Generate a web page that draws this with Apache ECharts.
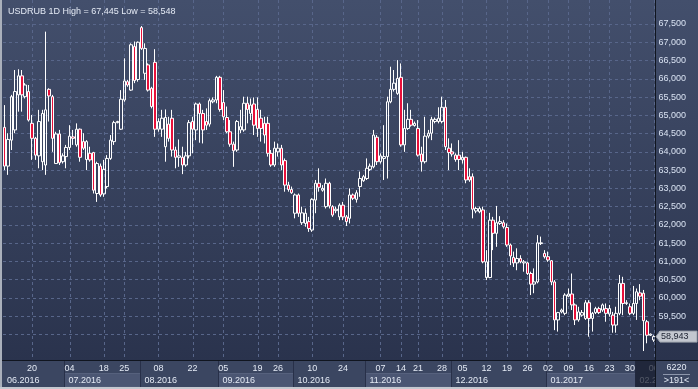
<!DOCTYPE html>
<html><head><meta charset="utf-8">
<script src="https://cdn.jsdelivr.net/npm/echarts@6/dist/echarts.min.js"></script>
<style>html,body{margin:0;padding:0;background:#2e3852;}#c{width:698px;height:389px;}</style>
</head><body><div id="c"></div>
<script>
// ---- data (USDRUB daily bars) ----
const openPrices = [64.67,63.61,64.32,64.60,65.56,66.08,65.51,65.65,64.78,64.37,63.89,63.73,63.64,65.71,65.51,63.68,64.49,63.73,63.87,64.12,
64.41,64.19,64.62,64.28,63.79,63.96,63.98,62.86,63.61,62.85,63.05,63.82,64.28,64.80,64.62,65.42,65.92,65.69,66.88,65.98,
67.40,66.15,66.38,65.74,66.45,64.62,64.62,64.14,64.76,64.92,64.05,63.85,63.85,63.64,63.89,64.83,64.60,65.31,65.05,64.83,
64.76,65.37,65.42,66.04,65.35,64.94,64.55,64.21,64.05,64.60,64.60,65.33,65.05,65.31,65.16,64.92,64.78,64.78,63.96,63.64,
64.00,64.10,63.76,63.09,62.97,62.32,62.82,62.06,62.04,62.09,61.86,62.68,63.14,62.95,62.50,63.14,62.50,62.39,62.22,62.54,
62.22,62.18,62.82,62.70,63.05,63.21,63.27,63.52,63.59,64.40,63.73,63.82,63.87,65.37,65.71,65.60,66.04,64.19,64.64,64.89,
64.72,64.64,63.94,63.73,64.43,64.51,64.83,64.83,64.83,65.22,64.10,64.00,63.91,63.91,63.78,63.85,63.32,63.32,62.38,62.36,
62.41,60.56,60.56,62.13,61.77,62.04,62.06,61.93,61.45,61.11,60.96,61.08,60.96,60.96,60.67,60.38,60.44,61.49,61.22,61.13,
61.02,60.44,59.40,59.62,59.58,60.05,60.11,59.81,59.40,59.53,59.44,59.87,59.44,59.60,59.71,59.67,59.71,59.56,59.53,59.26,
59.58,60.40,59.85,59.76,59.58,59.85,60.14,60.13,59.35,58.98,58.85];
const closePrices = [63.61,64.34,65.51,65.65,66.08,65.56,65.83,64.87,64.37,63.91,64.83,65.05,65.15,65.53,64.37,64.49,63.70,63.89,64.12,64.43,
64.37,64.62,63.85,64.10,64.28,63.78,62.95,63.68,62.82,63.52,63.82,64.32,64.80,64.83,65.44,65.94,65.83,66.93,65.95,67.00,
66.83,66.83,65.69,65.24,64.62,64.83,64.92,64.94,64.37,64.05,63.85,63.89,63.64,63.89,64.80,64.62,65.31,65.05,64.60,64.73,
65.40,65.42,66.04,65.16,64.96,64.55,64.21,64.03,64.83,64.69,65.33,65.16,65.28,64.73,64.64,64.64,64.46,63.96,63.64,64.10,
64.10,63.64,63.09,62.97,62.88,62.82,62.32,62.33,62.32,61.90,62.70,63.14,63.03,63.00,63.14,62.52,62.27,62.43,62.54,62.22,
62.09,62.82,62.73,62.88,63.27,63.32,63.55,63.61,64.46,63.73,63.89,63.87,65.37,65.71,65.88,66.01,64.19,64.64,64.89,64.73,
64.78,63.91,63.73,64.43,64.51,64.89,64.89,64.92,65.22,64.14,63.98,63.94,63.79,63.79,63.85,63.23,63.23,62.43,62.45,62.45,
60.99,60.99,62.13,61.77,62.06,62.09,61.95,61.45,61.15,60.96,61.08,60.99,60.99,60.67,60.38,60.44,61.51,61.51,61.13,61.04,
60.44,59.40,59.60,59.67,60.08,60.11,59.81,59.40,59.62,59.60,59.87,59.44,59.58,59.71,59.60,59.81,59.58,59.71,59.26,59.58,
60.40,59.85,59.87,59.58,59.85,60.17,60.05,59.38,58.98,59.01,58.943];
const lowPrices = [63.50,63.37,64.05,64.51,65.10,65.10,65.46,64.83,63.78,63.78,63.55,63.50,63.37,64.83,64.00,63.67,63.64,63.68,63.55,64.05,
64.19,64.14,63.73,64.05,63.50,63.73,62.86,62.63,62.77,62.77,63.00,63.78,64.19,64.78,64.60,65.37,65.78,65.67,65.88,65.92,
66.79,65.97,65.65,65.19,64.41,64.55,64.41,63.73,64.28,63.87,63.55,63.59,63.39,63.59,63.82,63.96,64.32,64.25,64.23,64.60,
64.69,65.33,65.33,65.10,64.87,64.51,64.14,63.59,64.00,64.51,64.55,64.78,64.87,64.46,64.41,64.28,64.23,63.87,63.59,63.59,
63.87,63.50,62.91,62.91,62.85,62.18,62.22,62.00,61.95,61.81,61.81,62.32,62.91,62.91,62.45,62.45,62.22,62.32,62.13,62.13,
61.97,62.04,62.68,62.61,62.77,63.18,63.23,63.48,63.55,63.64,63.68,63.23,63.27,65.33,65.65,65.56,64.14,64.00,64.60,64.69,
64.69,63.87,63.46,63.68,64.37,64.32,64.78,64.78,64.78,64.05,63.50,63.87,63.73,63.50,63.68,63.14,63.18,62.18,62.32,62.32,
60.95,60.49,60.54,61.31,61.40,62.00,61.90,61.40,60.90,60.85,60.76,60.95,60.72,60.63,60.08,60.13,60.40,61.45,61.08,60.99,
60.35,59.12,59.08,59.58,59.53,60.02,59.67,59.26,59.35,59.49,59.40,58.94,59.08,59.56,59.56,59.62,59.35,59.49,59.05,59.05,
59.53,59.53,59.81,59.53,59.53,59.40,59.94,58.548,58.76,58.96,58.80];
const highPrices = [65.28,64.51,65.56,66.24,66.26,66.24,65.88,65.83,65.01,64.41,65.15,65.15,67.29,65.74,65.56,64.55,64.60,63.96,64.19,64.73,
64.60,64.78,64.64,64.51,64.32,64.14,64.00,63.73,63.68,63.78,63.91,64.46,64.85,64.85,65.69,66.56,65.97,66.97,67.02,67.02,
67.445,66.97,66.42,65.78,66.81,64.92,65.15,65.16,64.96,65.15,64.14,64.34,64.14,64.00,64.87,64.96,65.35,65.35,65.15,65.19,
65.46,65.49,66.08,66.08,65.69,65.24,64.87,64.28,64.87,65.15,65.51,65.51,65.46,65.49,65.49,65.15,64.96,64.96,64.05,64.28,
64.23,64.19,63.82,63.18,63.05,62.86,62.86,62.50,62.45,62.22,62.73,63.23,63.55,63.09,63.27,63.18,62.54,62.50,62.59,62.63,
62.27,63.00,62.86,62.95,63.46,63.37,63.82,63.68,64.60,64.46,63.96,64.73,65.51,66.33,66.24,66.51,66.42,65.15,65.33,65.15,
64.83,64.87,64.14,64.96,64.60,64.96,64.94,65.22,65.51,65.42,64.37,64.23,63.96,64.32,64.00,63.87,63.55,63.41,62.50,62.50,
62.50,61.31,62.33,62.22,62.52,62.24,62.13,62.04,61.49,61.27,61.36,61.17,61.04,60.99,60.72,60.81,61.72,61.68,61.31,61.27,
61.04,60.49,59.62,59.71,60.13,60.26,60.67,59.85,59.76,59.67,59.94,59.94,59.62,59.76,59.76,59.85,59.85,59.81,59.62,59.76,
60.63,60.58,59.94,59.85,60.33,60.26,60.38,60.22,59.40,59.03,58.98];

// x-axis tick labels (bar index -> day of month)
const dayTickIndex = [8,19,29,35,45,55,64,74,80,90,99,110,116,121,128,134,141,147,153,159,165,171,177,183,190];
const dayTickLabel = ['20','04','18','25','08','22','05','19','26','10','24','07','14','21','28','05','12','19','26','02','09','16','23','30','06'];
// month bands (first bar index of each month)
const monthStartIndex = [0,18,40,63,85,106,131,159,185];
const monthLabels = ['06.2016','07.2016','08.2016','09.2016','10.2016','11.2016','12.2016','01.2017','02.2017'];
// price axis
const yMin = 58.5, yMax = 68.0, yStep = 0.5;
const symbolName = 'USDRUB', timeframe = '1D';
const cornerTop = '6220';

// ---- build ----
const N = openPrices.length;
const categories = openPrices.map((_, i) => String(i));
const dayLabelAt = {};
dayTickIndex.forEach((ix, k) => { dayLabelAt[ix] = dayTickLabel[k]; });
const candleData = openPrices.map((o, i) => [o, closePrices[i], lowPrices[i], highPrices[i]]);
const fmt = v => v.toFixed(3).replace('.', ',');
const hi = Math.max(...highPrices), lo = Math.min(...lowPrices);
const FONT = 'Liberation Sans, Arial, sans-serif';
const TXT = '#e4eaf5';

const chart = echarts.init(document.getElementById('c'), null, {renderer: 'canvas'});
const option = {
  animation: false,
  backgroundColor: 'transparent',
  title: {
    text: `${symbolName} ${timeframe} High = ${fmt(hi)} Low = ${fmt(lo)}`,
    left: 3, top: 2,
    textStyle: {color: TXT, fontSize: 9, fontWeight: 'normal', fontFamily: FONT}
  },
  grid: {left: 3, right: 42.5, top: 5.7, bottom: 36.2, containLabel: false},
  xAxis: {
    type: 'category', data: categories, boundaryGap: true,
    axisLine: {show: false}, axisTick: {show: false}, splitLine: {show: false},
    axisLabel: {
      interval: 0, margin: 11, color: TXT, fontSize: 9, fontFamily: FONT,
      formatter: (v, i) => dayLabelAt[i] || ''
    }
  },
  yAxis: {
    type: 'value', position: 'right', min: yMin, max: yMax, interval: yStep,
    axisLine: {show: false}, axisTick: {show: false},
    axisLabel: {margin: 3, color: '#d9e2f2', fontSize: 9, fontFamily: FONT,
      showMinLabel: false, showMaxLabel: false, formatter: v => fmt(v)},
    splitLine: {show: true, showMinLine: false, showMaxLine: false,
      lineStyle: {color: '#58668a', width: 1, type: [3, 3]}}
  },
  series: [{
    type: 'candlestick', data: candleData, barWidth: 3,
    itemStyle: {color: 'rgba(0,0,0,0)', color0: '#e8103a', borderColor: '#ffffff', borderColor0: '#ffffff', borderWidth: 1}
  }]
};
chart.setOption(option);

// ---- decorations placed through the axes' own scales ----
const px = i => chart.convertToPixel({xAxisIndex: 0}, i);
const py = v => chart.convertToPixel({yAxisIndex: 0}, v);
const band = px(1) - px(0);
const bx = i => (i >= N ? px(N - 1) + band / 2 : px(i) - band / 2);
const W = 698, H = 389, AX = 655.5, AY = 360.5;
const g = [];
g.push({type: 'rect', z: -10, silent: true, shape: {x: 0, y: 0, width: W, height: AY},
  style: {fill: new echarts.graphic.LinearGradient(0, 0, 0, 1, [{offset: 0, color: '#434f6c'}, {offset: 1, color: '#2a334d'}])}});
g.push({type: 'rect', z: -9, silent: true, shape: {x: 0, y: AY, width: W, height: H - AY}, style: {fill: '#3b4661'}});
dayTickIndex.forEach(ix => {
  const x = Math.round(px(ix)) + 0.5;
  g.push({type: 'line', z: 1, silent: true, shape: {x1: x, y1: 0, x2: x, y2: AY},
    style: {stroke: '#58668a', lineWidth: 1, lineDash: [3, 3]}});
});
monthStartIndex.forEach((s, k) => {
  const x0 = k === 0 ? 3 : Math.round(bx(s)) + 0.5;
  const x1 = k + 1 < monthStartIndex.length ? Math.round(bx(monthStartIndex[k + 1])) + 0.5 : AX;
  const last = k === monthStartIndex.length - 1;
  if (k % 2 === 1 && !last) {
    g.push({type: 'rect', z: -8, silent: true, shape: {x: x0, y: 373.5, width: x1 - x0, height: 13.5},
      style: {fill: '#4b5673', stroke: '#56617d', lineWidth: 1}});
  }
  if (k > 0) {
    g.push({type: 'line', z: -7, silent: true, shape: {x1: x0, y1: AY, x2: x0, y2: 387},
      style: {stroke: '#283049', lineWidth: 1}});
  }
  g.push({type: 'text', z: 12, silent: true, x: x0 + 4, y: 380.5,
    style: {text: monthLabels[k], fill: TXT, font: '9px ' + FONT, verticalAlign: 'middle'}});
  if (last) {
    g.push({type: 'rect', z: 14, silent: true, shape: {x: x0, y: AY, width: AX - x0, height: 387 - AY},
      style: {fill: 'rgba(22,28,44,0.72)'}});
  }
});
// right/bottom corner cell
g.push({type: 'rect', z: 15, silent: true, shape: {x: AX, y: AY, width: W - AX, height: H - AY}, style: {fill: '#3b4661'}});
g.push({type: 'text', z: 16, silent: true, x: 676.5, y: 367.5,
  style: {text: cornerTop, fill: TXT, font: '9px ' + FONT, align: 'center', verticalAlign: 'middle'}});
g.push({type: 'line', z: 16, silent: true, shape: {x1: 663, y1: 374.5, x2: 690, y2: 374.5}, style: {stroke: '#8d96ab', lineWidth: 1}});
g.push({type: 'text', z: 16, silent: true, x: 676.5, y: 381,
  style: {text: '>' + N + '<', fill: TXT, font: '9px ' + FONT, align: 'center', verticalAlign: 'middle'}});
// separators
g.push({type: 'line', z: 20, silent: true, shape: {x1: 0, y1: AY, x2: W, y2: AY}, style: {stroke: '#10151f', lineWidth: 1}});
g.push({type: 'line', z: 20, silent: true, shape: {x1: AX, y1: 0, x2: AX, y2: H}, style: {stroke: '#10151f', lineWidth: 1}});
// last price tag
const lastClose = closePrices[N - 1];
const ly = py(lastClose);
g.push({type: 'polygon', z: 30, silent: true,
  shape: {points: [[656, ly], [660, ly - 5.5], [697, ly - 5.5], [697, ly + 5.5], [660, ly + 5.5]]},
  style: {fill: '#c3c7cf', stroke: '#9aa0ab', lineWidth: 1}});
g.push({type: 'text', z: 31, silent: true, x: 661, y: ly,
  style: {text: fmt(lastClose), fill: '#1b2130', font: '9px ' + FONT, verticalAlign: 'middle'}});
// outer frame
g.push({type: 'rect', z: 40, silent: true, shape: {x: 0, y: 0, width: 2, height: H}, style: {fill: '#aab0bb'}});
g.push({type: 'rect', z: 40, silent: true, shape: {x: 0, y: 387, width: W, height: 2}, style: {fill: '#c4c8d0'}});
chart.setOption({graphic: {elements: g}});
</script>
</body></html>
